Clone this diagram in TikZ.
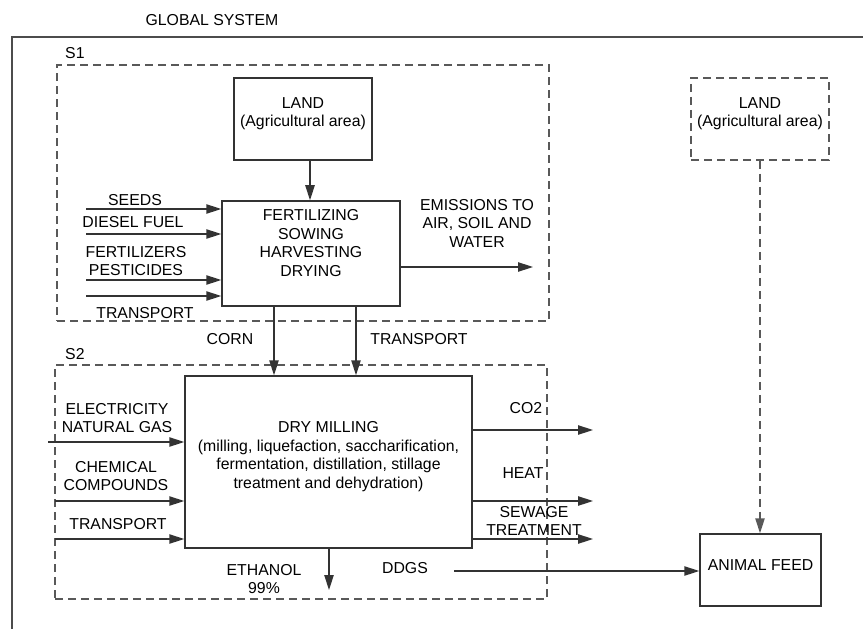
\documentclass[tikz,border=0pt]{standalone}
\usepackage{fontspec}
\setmainfont{Liberation Sans}
\usetikzlibrary{arrows.meta,positioning,fit}

\begin{document}
\begin{tikzpicture}[x=0.3mm,y=-0.3mm,
  every node/.style={font=\fontsize{13.5}{15.8}\selectfont},
  nd/.style={inner sep=0pt,align=center},
  bx/.style={draw=black!80,line width=0.45mm,inner sep=0pt,align=center},
  dbx/.style={draw=black!65,line width=0.45mm,dash pattern=on 2.5mm off 1.4mm,inner sep=0pt,align=center},
  fl/.style={draw=black!80,line width=0.45mm,-{Triangle[length=4.5mm,width=2.8mm]}},
  dfl/.style={fl,draw=black!65,dash pattern=on 2.5mm off 1.4mm}]
 \useasboundingbox (0,0) rectangle (863,629);
 \node[nd] (title) at (212,20) {GLOBAL SYSTEM};
 \draw[black!70,line width=0.5mm] (863,37) -- (12,37) -- (12,629);
 % S1
 \node[dbx,fit={(57,65) (549,321)}] (s1) {};
 \node[nd,anchor=west] (s1lab) at (65,53) {S1};
 \node[bx,fit={(234,78) (372,160)}] (land) {LAND\\(Agricultural area)};
 \node[bx,fit={(222,201) (400,306)}] (farm) {};
 \node[nd] (farmtxt) at (311,243) {FERTILIZING\\SOWING\\HARVESTING\\DRYING};
 \draw[fl] ([xshift=2.1mm]land.south) -- ([xshift=2.1mm]land.south |- farm.north);
 \coordinate (seeds) at (86,209);
 \coordinate (diesel) at (86,234);
 \coordinate (fert) at (86,280);
 \coordinate (trfarm) at (86,296);
 \foreach \c in {seeds,diesel,fert,trfarm}
   \draw[fl] (\c) -- (\c -| farm.west);
 \node[nd] (seedslab) at (135,200) {SEEDS};
 \node[nd] (diesellab) at (133,222) {DIESEL FUEL};
 \node[nd] (fertlab) at (136,261) {FERTILIZERS\\PESTICIDES};
 \node[nd] (trfarmlab) at (145,313) {TRANSPORT};
 \coordinate (emis) at (533,267);
 \draw[fl] (farm.east |- emis) -- (emis);
 \node[nd] (emislab) at (477,223) {EMISSIONS TO\\AIR, SOIL AND\\WATER};
 % S2
 \node[dbx,fit={(55,365) (547,599)}] (s2) {};
 \node[nd,anchor=west] (s2lab) at (65,354) {S2};
 \node[bx,fit={(185,376) (472,548)}] (mill) {DRY MILLING\\(milling, liquefaction, saccharification,\\fermentation, distillation, stillage\\treatment and dehydration)};
 \coordinate (corn) at (274,0);
 \coordinate (trmid) at (356,0);
 \foreach \c in {corn,trmid}
   \draw[fl] (farm.south -| \c) -- (mill.north -| \c);
 \node[nd] (cornlab) at (230,339) {CORN};
 \node[nd] (trmidlab) at (419,339) {TRANSPORT};
 \coordinate (elec) at (48,442);
 \coordinate (chem) at (55,501);
 \coordinate (trmill) at (55,539);
 \foreach \c in {elec,chem,trmill}
   \draw[fl] (\c) -- (\c -| mill.west);
 \node[nd] (eleclab) at (117,418) {ELECTRICITY\\NATURAL GAS};
 \node[nd] (chemlab) at (116,476) {CHEMICAL\\COMPOUNDS};
 \node[nd] (trmilllab) at (118,524) {TRANSPORT};
 \coordinate (co2) at (593,430);
 \coordinate (heat) at (593,501);
 \coordinate (sew) at (593,539);
 \foreach \c in {co2,heat,sew}
   \draw[fl] (mill.east |- \c) -- (\c);
 \node[nd] (co2lab) at (526,408) {CO2};
 \node[nd] (heatlab) at (523,473) {HEAT};
 \node[nd] (sewlab) at (534,521) {SEWAGE\\TREATMENT};
 \coordinate (eth) at (329,590);
 \draw[fl] (mill.south -| eth) -- (eth);
 \node[nd] (ethlab) at (264,579) {ETHANOL\\99\%};
 \node[nd] (ddgslab) at (405,568) {DDGS};
 % right side
 \node[dbx,fit={(691,78) (829,160)}] (land2) {LAND\\(Agricultural area)};
 \node[bx,fit={(700,534) (821,606)}] (feed) {ANIMAL FEED};
 \draw[dfl] (land2.south) -- (land2.south |- feed.north);
 \coordinate (ddgs) at (454,571);
 \draw[fl] (ddgs) -- (ddgs -| feed.west);
\end{tikzpicture}
\end{document}
